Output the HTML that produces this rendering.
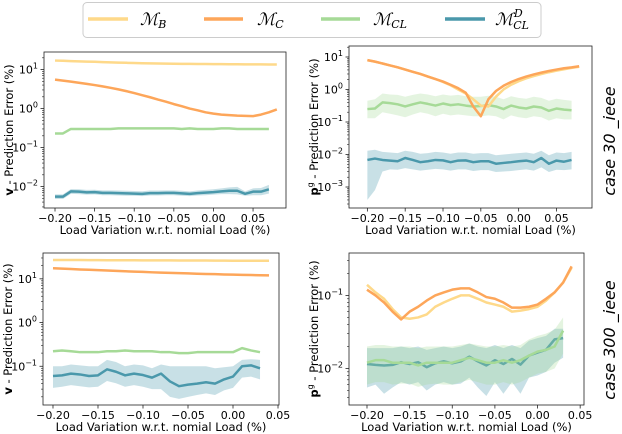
<!DOCTYPE html>
<html><head><meta charset="utf-8"><style>
html,body{margin:0;padding:0;background:#fff;}
svg{display:block;font-family:"DejaVu Sans","Liberation Sans",sans-serif;}
</style></head><body>
<svg id="fig" width="622" height="434" viewBox="0 0 622 434">
<g>
 <rect x="83" y="2.5" width="458" height="35" rx="4" fill="#fff" stroke="#ccc"/>
 <g><line x1="88" y1="19" x2="128" y2="19" stroke="#fed98a" stroke-width="3.5"/><text x="140" y="25" font-family="DejaVu Serif,serif" font-style="italic" font-size="17">ℳ<tspan font-size="11" dy="3">B</tspan></text></g>
 <g><line x1="204" y1="19" x2="243" y2="19" stroke="#fda65a" stroke-width="3.5"/><text x="257" y="25" font-family="DejaVu Serif,serif" font-style="italic" font-size="17">ℳ<tspan font-size="11" dy="3">C</tspan></text></g>
 <g><line x1="321" y1="19" x2="360" y2="19" stroke="#a6da97" stroke-width="3.5"/><text x="373" y="25" font-family="DejaVu Serif,serif" font-style="italic" font-size="17">ℳ<tspan font-size="11" dy="3">CL</tspan></text></g>
 <g><line x1="445" y1="19" x2="485" y2="19" stroke="#4a98ab" stroke-width="3.5"/><text x="495" y="25" font-family="DejaVu Serif,serif" font-style="italic" font-size="17">ℳ<tspan font-size="11" dy="4">CL</tspan><tspan font-size="11" dx="-15" dy="-12">D</tspan></text></g>
</g>
<text transform="translate(615,141) rotate(-90)" text-anchor="middle" font-size="16" font-style="italic">case 30 _ieee</text>
<text transform="translate(615,340) rotate(-90)" text-anchor="middle" font-size="16" font-style="italic">case 300 _ieee</text>
</svg>
<script>
// ---- data: case30 voltage (top-left)
const tlX = [-0.20,-0.19,-0.18,-0.17,-0.16,-0.15,-0.14,-0.13,-0.12,-0.11,-0.10,-0.09,-0.08,-0.07,-0.06,-0.05,-0.04,-0.03,-0.02,-0.01,0.00,0.01,0.02,0.03,0.04,0.05,0.06,0.07,0.08];
const tlB = [17,16.8,16.5,16.2,16,15.8,15.5,15.3,15.1,14.9,14.7,14.5,14.4,14.3,14.2,14.1,14,14,13.9,13.9,13.8,13.8,13.7,13.7,13.6,13.6,13.6,13.5,13.5];
const tlC = [5.5,5.2,4.9,4.6,4.3,4.0,3.7,3.4,3.1,2.8,2.5,2.2,1.95,1.7,1.5,1.3,1.15,1.0,0.9,0.8,0.74,0.7,0.68,0.66,0.65,0.64,0.7,0.8,0.95];
const tlCL = [0.23,0.23,0.3,0.3,0.3,0.3,0.3,0.3,0.31,0.31,0.31,0.31,0.31,0.31,0.31,0.31,0.3,0.31,0.3,0.3,0.3,0.31,0.31,0.3,0.3,0.3,0.3,0.3];
const tlD = [0.0055,0.0055,0.0075,0.0074,0.0071,0.0072,0.0069,0.0069,0.0068,0.0067,0.0066,0.0065,0.0068,0.0068,0.0069,0.0069,0.0067,0.0065,0.0068,0.007,0.0072,0.0075,0.0078,0.0078,0.0065,0.0074,0.0074,0.0085];
const tlDlo = [0.0048,0.0048,0.0065,0.0064,0.0062,0.0063,0.006,0.006,0.0059,0.0058,0.0058,0.0057,0.0059,0.0059,0.006,0.006,0.0058,0.0057,0.0059,0.006,0.0062,0.0064,0.0064,0.0063,0.0058,0.006,0.006,0.0066];
const tlDhi = [0.0063,0.0063,0.0086,0.0085,0.0082,0.0083,0.008,0.008,0.0079,0.0078,0.0077,0.0076,0.0079,0.0079,0.008,0.008,0.0078,0.0075,0.0079,0.0082,0.0085,0.009,0.0095,0.0098,0.0075,0.009,0.0092,0.011];
// ---- data: case30 generation (top-right)
const trX = tlX;
const trB = [8,7.2,6.3,5.5,4.8,4.1,3.5,3.0,2.5,2.1,1.7,1.35,1.0,0.75,0.5,0.32,0.3,0.6,1.0,1.4,1.8,2.2,2.6,3.0,3.4,3.8,4.2,4.6,5.0];
const trC = [8,7.2,6.3,5.5,4.8,4.1,3.5,3.0,2.5,2.1,1.75,1.4,1.1,0.8,0.3,0.15,0.5,0.9,1.3,1.7,2.1,2.5,2.9,3.3,3.7,4.1,4.5,4.8,5.2];
const trCL = [0.25,0.26,0.4,0.38,0.35,0.3,0.35,0.4,0.36,0.32,0.37,0.33,0.35,0.32,0.3,0.31,0.33,0.3,0.25,0.32,0.28,0.26,0.3,0.28,0.22,0.26,0.24,0.23];
const trCLlo = [0.13,0.13,0.2,0.18,0.16,0.14,0.17,0.2,0.18,0.15,0.18,0.16,0.17,0.16,0.15,0.15,0.16,0.15,0.12,0.16,0.14,0.13,0.15,0.14,0.11,0.13,0.12,0.12];
const trCLhi = [0.45,0.5,0.75,0.7,0.68,0.6,0.68,0.75,0.7,0.62,0.7,0.65,0.68,0.62,0.6,0.6,0.64,0.6,0.5,0.62,0.55,0.52,0.6,0.55,0.45,0.52,0.48,0.45];
const trD = [0.0068,0.0075,0.0068,0.0065,0.0062,0.0078,0.0068,0.0058,0.0062,0.0068,0.0066,0.0058,0.0065,0.0066,0.0058,0.0062,0.0062,0.0052,0.0055,0.0058,0.0062,0.0065,0.0058,0.0078,0.0052,0.0065,0.006,0.0068];
const trDlo = [0.0004,0.0008,0.003,0.0035,0.0034,0.0038,0.0035,0.0032,0.0034,0.0036,0.0035,0.0032,0.0035,0.0035,0.0031,0.0033,0.0033,0.0029,0.003,0.0031,0.0033,0.0035,0.0032,0.004,0.0029,0.0034,0.0033,0.0035];
const trDhi = [0.013,0.014,0.012,0.0115,0.011,0.013,0.012,0.0105,0.011,0.012,0.0115,0.0105,0.0115,0.0115,0.0105,0.011,0.011,0.0095,0.01,0.0105,0.011,0.0115,0.0105,0.013,0.0095,0.0115,0.011,0.012];
// ---- data: case300 voltage (bottom-left)
const blX = [-0.20,-0.19,-0.18,-0.17,-0.16,-0.15,-0.14,-0.13,-0.12,-0.11,-0.10,-0.09,-0.08,-0.07,-0.06,-0.05,-0.04,-0.03,-0.02,-0.01,0.00,0.01,0.02,0.03,0.04];
const blB = [27,27,26.9,26.9,26.8,26.8,26.7,26.7,26.6,26.6,26.5,26.5,26.4,26.4,26.3,26.3,26.2,26.2,26.1,26.1,26,26,26,25.9,25.9];
const blC = [17.5,17.1,16.8,16.4,16.1,15.8,15.5,15.2,14.9,14.6,14.4,14.1,13.9,13.7,13.5,13.3,13.1,12.9,12.8,12.6,12.5,12.3,12.2,12.1,12];
const blCL = [0.22,0.23,0.22,0.21,0.21,0.21,0.22,0.22,0.23,0.22,0.22,0.22,0.21,0.21,0.2,0.2,0.21,0.21,0.21,0.21,0.21,0.26,0.23,0.21];
const blD = [0.06,0.062,0.068,0.065,0.06,0.062,0.085,0.075,0.062,0.068,0.063,0.055,0.068,0.045,0.035,0.038,0.04,0.043,0.04,0.05,0.058,0.1,0.105,0.09];
const blDlo = [0.032,0.034,0.037,0.035,0.033,0.034,0.046,0.041,0.034,0.037,0.034,0.03,0.03,0.02,0.018,0.02,0.022,0.024,0.022,0.028,0.032,0.055,0.058,0.05];
const blDhi = [0.1,0.1,0.11,0.105,0.1,0.1,0.14,0.125,0.1,0.11,0.105,0.09,0.11,0.1,0.1,0.1,0.1,0.1,0.09,0.095,0.1,0.14,0.145,0.14];
// ---- data: case300 generation (bottom-right)
const brX = blX;
const brB = [0.14,0.11,0.09,0.065,0.05,0.048,0.05,0.055,0.07,0.08,0.09,0.1,0.1,0.09,0.08,0.075,0.07,0.06,0.062,0.065,0.07,0.085,0.11,0.15,0.24];
const brC = [0.12,0.1,0.08,0.06,0.047,0.06,0.07,0.085,0.1,0.11,0.12,0.125,0.125,0.11,0.095,0.09,0.08,0.068,0.068,0.07,0.075,0.09,0.11,0.15,0.25];
const brCL = [0.012,0.013,0.013,0.012,0.012,0.012,0.011,0.012,0.012,0.012,0.012,0.013,0.014,0.013,0.012,0.012,0.013,0.012,0.013,0.015,0.017,0.018,0.02,0.033];
const brCLlo = [0.006,0.0065,0.0065,0.006,0.0062,0.0062,0.0056,0.006,0.0062,0.006,0.006,0.0065,0.007,0.0065,0.006,0.006,0.0065,0.006,0.0065,0.0075,0.0085,0.009,0.01,0.016];
const brCLhi = [0.02,0.021,0.021,0.02,0.02,0.02,0.019,0.02,0.02,0.02,0.02,0.021,0.022,0.021,0.02,0.02,0.021,0.02,0.021,0.025,0.028,0.03,0.034,0.05];
const brD = [0.0115,0.0112,0.011,0.0112,0.0122,0.0115,0.0122,0.0104,0.0118,0.0125,0.0118,0.0125,0.0145,0.0125,0.011,0.013,0.0115,0.0135,0.0113,0.015,0.0165,0.018,0.025,0.026];
const brDlo = [0.0055,0.006,0.0045,0.0055,0.0065,0.006,0.0065,0.005,0.006,0.0065,0.006,0.0062,0.0075,0.0055,0.0042,0.0065,0.0045,0.0065,0.0045,0.0075,0.008,0.009,0.012,0.014];
const brDhi = [0.019,0.019,0.019,0.019,0.02,0.019,0.02,0.018,0.019,0.02,0.019,0.02,0.022,0.02,0.019,0.021,0.019,0.021,0.019,0.024,0.026,0.028,0.035,0.035];
const xTicks = [-0.20,-0.15,-0.10,-0.05,0.00,0.05];
const xTickLabels = ["−0.20","−0.15","−0.10","−0.05","0.00","0.05"];

const COL = {B:"#fed98a",C:"#fda65a",CL:"#a6da97",D:"#4a98ab"};
const NS = "http://www.w3.org/2000/svg";
const fig = document.getElementById('fig');
function mk(tag, attrs, parent){const e=document.createElementNS(NS,tag);for(const k in attrs)e.setAttribute(k,attrs[k]);(parent||fig).appendChild(e);return e;}

function panel(name, box, xdom, ydom, yTicksExp, ylabelVar, series){
  const g = mk('g',{});
  
  
  const sx = v => box.l + (v - xdom[0])/(xdom[1]-xdom[0])*(box.r-box.l);
  const sy = v => box.b - (Math.log10(v) - ydom[0])/(ydom[1]-ydom[0])*(box.b-box.t);
  const clip = 'clip-'+name;
  const cp = mk('clipPath',{id:clip},g); mk('rect',{x:box.l,y:box.t,width:box.r-box.l,height:box.b-box.t},cp);
  const plot = mk('g',{'clip-path':'url(#'+clip+')'},g);
  series.forEach(s=>{
    if(s.lo){
      let d='M'+s.x.slice(0,s.lo.length).map((x,i)=>sx(x)+','+sy(s.hi[i])).join('L');
      for(let i=s.lo.length-1;i>=0;i--) d+='L'+sx(s.x[i])+','+sy(s.lo[i]);
      const band = mk('path',{d:d+'Z',fill:s.c,'fill-opacity':0.3,stroke:'none'},plot);
      
      
    }
    const d='M'+s.y.map((v,i)=>sx(s.x[i])+','+sy(v)).join('L');
    const p = mk('path',{d:d,fill:'none',stroke:s.c,'stroke-width':2.5,'stroke-linejoin':'round'},plot);
    
    
  });
  const frame = mk('rect',{x:box.l,y:box.t,width:box.r-box.l,height:box.b-box.t,fill:'none',stroke:'#222','stroke-width':0.8},g);
  
  
  xTicks.forEach((t,i)=>{
    if(t<xdom[0]-1e-9||t>xdom[1]+1e-9) return;
    mk('line',{x1:sx(t),x2:sx(t),y1:box.b,y2:box.b+3.5,stroke:'#222','stroke-width':0.8},g);
    const tx = mk('text',{x:sx(t),y:box.b+14,'text-anchor':'middle','font-size':11},g);
    tx.textContent = xTickLabels[i];
    
    
  });
  const xl = mk('text',{x:(box.l+box.r)/2,y:box.b+26,'text-anchor':'middle','font-size':11.5},g);
  xl.textContent='Load Variation w.r.t. nomial Load (%)';
  
  
  for(let e=Math.floor(ydom[0]);e<=Math.ceil(ydom[1]);e++){
    for(let m=1;m<10;m++){
      const v=Math.log10(m)+e; if(v<ydom[0]||v>ydom[1]) continue;
      const y=sy(Math.pow(10,v));
      mk('line',{x1:box.l-(m===1?3.5:2),x2:box.l,y1:y,y2:y,stroke:'#222','stroke-width':m===1?0.8:0.6},g);
    }
  }
  yTicksExp.forEach(e=>{
    const y=sy(Math.pow(10,e));
    const t = mk('text',{x:box.l-6,y:y+4,'text-anchor':'end','font-size':11},g);
    
    
    t.innerHTML='10<tspan font-size="8" dy="-5">'+(e<0?'−'+(-e):e)+'</tspan>';
  });
  const yl = mk('text',{transform:'translate('+(box.l-31)+','+((box.t+box.b)/2)+') rotate(-90)','text-anchor':'middle','font-size':11.5},g);
  
  
  yl.innerHTML = ylabelVar;
}

const vLab = '<tspan font-weight="bold">v</tspan> - Prediction Error (%)';
const pLab = '<tspan font-weight="bold">p</tspan><tspan font-size="8" dy="-5">g</tspan><tspan dy="5"> - Prediction Error (%)</tspan>';

panel('panel-case30-voltage',{l:44,r:286,t:52,b:208},[-0.2139,0.0916],[-2.55,1.45],[1,0,-1,-2],vLab,[
 {n:'mcl-d',x:tlX,y:tlD,lo:tlDlo,hi:tlDhi,c:COL.D},
 {n:'mcl',x:tlX,y:tlCL,c:COL.CL},
 {n:'mb',x:tlX,y:tlB,c:COL.B},
 {n:'mc',x:tlX,y:tlC,c:COL.C}]);
panel('panel-case30-generation',{l:349,r:592,t:46,b:208},[-0.2243,0.0970],[-3.646,1.338],[1,0,-1,-2,-3],pLab,[
 {n:'mcl-d',x:trX,y:trD,lo:trDlo,hi:trDhi,c:COL.D},
 {n:'mcl',x:trX,y:trCL,lo:trCLlo,hi:trCLhi,c:COL.CL},
 {n:'mb',x:trX,y:trB,c:COL.B},
 {n:'mc',x:trX,y:trC,c:COL.C}]);
panel('panel-case300-voltage',{l:43,r:279,t:253,b:405},[-0.2111,0.0511],[-1.886,1.591],[1,0,-1],vLab,[
 {n:'mcl-d',x:blX,y:blD,lo:blDlo,hi:blDhi,c:COL.D},
 {n:'mcl',x:blX,y:blCL,c:COL.CL},
 {n:'mb',x:blX,y:blB,c:COL.B},
 {n:'mc',x:blX,y:blC,c:COL.C}]);
panel('panel-case300-generation',{l:349,r:584,t:253,b:405},[-0.2211,0.0545],[-2.50,-0.419],[-1,-2],pLab,[
 {n:'mcl-d',x:brX,y:brD,lo:brDlo,hi:brDhi,c:COL.D},
 {n:'mcl',x:brX,y:brCL,lo:brCLlo,hi:brCLhi,c:COL.CL},
 {n:'mb',x:brX,y:brB,c:COL.B},
 {n:'mc',x:brX,y:brC,c:COL.C}]);
</script>
</body></html>
